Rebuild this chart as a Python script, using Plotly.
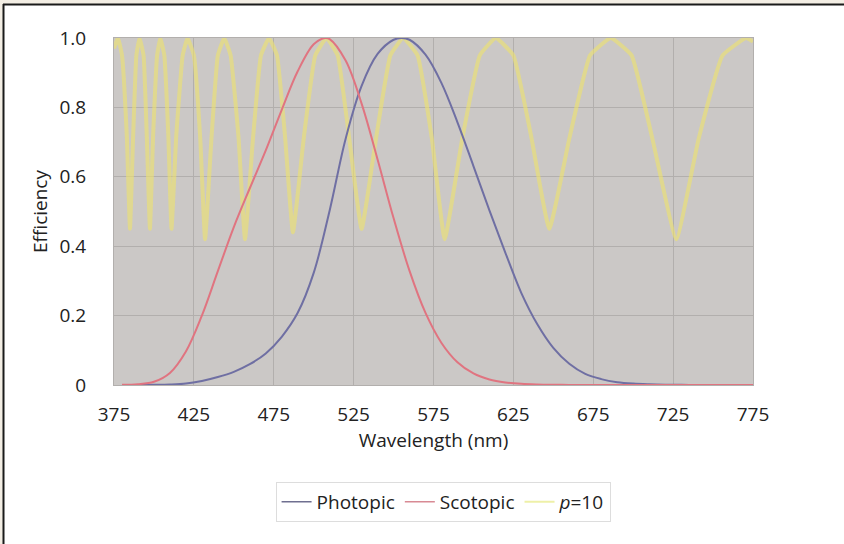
import plotly.graph_objects as go

# Photopic efficiency (CIE V(lambda))
photopic_nm = [380, 390, 400, 410, 420, 430, 440, 450, 460, 470, 480, 490, 500, 510, 520,
               530, 540, 550, 555, 560, 570, 580, 590, 600, 610, 620, 630, 640, 650, 660,
               670, 680, 690, 700, 710, 720, 730, 740, 750, 760, 770, 780]
photopic_val = [0.00004, 0.00012, 0.0004, 0.0012, 0.004, 0.0116, 0.023, 0.038, 0.06, 0.091,
                0.139, 0.208, 0.323, 0.503, 0.71, 0.862, 0.954, 0.995, 1.0, 0.995, 0.952,
                0.87, 0.757, 0.631, 0.503, 0.381, 0.265, 0.175, 0.107, 0.061, 0.032, 0.017,
                0.0082, 0.0041, 0.0021, 0.00105, 0.00052, 0.00025, 0.00012, 0.00006,
                0.00003, 0.000015]

# Scotopic efficiency
scotopic_nm = [380, 390, 400, 410, 420, 430, 440, 450, 460, 470, 480, 490, 500, 507, 510,
               520, 530, 540, 550, 560, 570, 580, 590, 600, 610, 620, 630, 640, 650, 660,
               670, 680, 690, 700, 720, 740, 760, 780]
scotopic_val = [0.0006, 0.0022, 0.0093, 0.0348, 0.0966, 0.1998, 0.3281, 0.455, 0.567, 0.676,
                0.793, 0.904, 0.982, 1.0, 0.997, 0.935, 0.811, 0.65, 0.481, 0.3288, 0.2076,
                0.1212, 0.0655, 0.0332, 0.0159, 0.0074, 0.0033, 0.0015, 0.0007, 0.0003,
                0.00015, 0.00007, 0.00004, 0.00002, 0.0, 0.0, 0.0, 0.0]

# p=10 curve (peaks, shoulders, dips)
p10_nm = [375, 377.5, 380, 383, 385, 387, 389, 391, 393.5, 395.5, 397.5, 399.5, 402, 404,
          406.5, 409, 411, 414, 418, 421, 425, 429, 432, 436, 440, 444, 448, 453, 457,
          462, 467, 472, 477, 482, 487, 494, 501, 508, 515, 522, 530, 539, 548, 556,
          565, 574, 582, 593, 604, 614, 625, 636, 647.5, 660, 673, 686, 699, 712, 727,
          741, 756, 770.6, 775]
p10_val = [0.97, 1.0, 0.95, 0.72, 0.45, 0.72, 0.95, 1.0, 0.95, 0.72, 0.45, 0.72, 0.95, 1.0,
           0.95, 0.72, 0.45, 0.72, 0.95, 1.0, 0.95, 0.71, 0.42, 0.71, 0.95, 1.0, 0.95,
           0.71, 0.42, 0.71, 0.95, 1.0, 0.95, 0.72, 0.44, 0.72, 0.95, 1.0, 0.95, 0.72, 0.45,
           0.71, 0.95, 1.0, 0.95, 0.71, 0.42, 0.71, 0.95, 1.0, 0.95, 0.72, 0.45, 0.71,
           0.95, 1.0, 0.95, 0.71, 0.42, 0.71, 0.95, 1.0, 0.99]

x_ticks = [375, 425, 475, 525, 575, 625, 675, 725, 775]
y_ticks = [0, 0.2, 0.4, 0.6, 0.8, 1.0]
y_tick_text = ["0", "0.2", "0.4", "0.6", "0.8", "1.0"]

FONT = "Open Sans"
FS = 19

fig = go.Figure()
# data lines (legend handled by thin legend-only entries below)
fig.add_trace(go.Scatter(x=p10_nm, y=p10_val, mode="lines", name="<i>p</i>=10",
                         legendgroup="p", showlegend=False,
                         line=dict(color="rgba(238,226,112,0.62)", width=4,
                                   shape="spline", smoothing=0.35)))
fig.add_trace(go.Scatter(x=photopic_nm, y=photopic_val, mode="lines", name="Photopic",
                         legendgroup="ph", showlegend=False,
                         line=dict(color="#6f6fa3", width=2, shape="spline")))
fig.add_trace(go.Scatter(x=scotopic_nm, y=scotopic_val, mode="lines", name="Scotopic",
                         legendgroup="sc", showlegend=False,
                         line=dict(color="#e07480", width=2, shape="spline")))
# legend entries
fig.add_trace(go.Scatter(x=[None], y=[None], mode="lines", name="Photopic", legendgroup="ph",
                         line=dict(color="#6f6f90", width=1.5)))
fig.add_trace(go.Scatter(x=[None], y=[None], mode="lines", name="Scotopic", legendgroup="sc",
                         line=dict(color="#d88a94", width=1.5)))
fig.add_trace(go.Scatter(x=[None], y=[None], mode="lines", name="<i>p</i>=10", legendgroup="p",
                         line=dict(color="#eef0a8", width=2)))

L, R, T, B = 114, 91, 38, 159
W, H = 844, 544
pw, ph = W - L - R, H - T - B

def px(xp):
    return (xp - L) / pw

def py(yp):
    return (H - B - yp) / ph

shapes = [
    dict(type="rect", xref="paper", yref="paper", x0=px(-5), x1=px(W + 5), y0=py(-5), y1=py(4),
         fillcolor="#f3eee4", line=dict(width=0), layer="above"),
    dict(type="rect", xref="paper", yref="paper", x0=px(-5), x1=px(3), y0=py(H + 5), y1=py(4),
         fillcolor="#f3eee4", line=dict(width=0), layer="above"),
    dict(type="line", xref="paper", yref="paper", x0=px(3), x1=px(W + 5), y0=py(4.5), y1=py(4.5),
         line=dict(color="#1a1a1a", width=2), layer="above"),
    dict(type="line", xref="paper", yref="paper", x0=px(3.5), x1=px(3.5), y0=py(4), y1=py(H + 5),
         line=dict(color="#1a1a1a", width=2), layer="above"),
]

fig.update_layout(
    width=W, height=H,
    margin=dict(l=L, r=R, t=T, b=B, autoexpand=False),
    paper_bgcolor="white",
    plot_bgcolor="#cbc8c6",
    font=dict(family=FONT, size=FS, color="#222222"),
    showlegend=True,
    legend=dict(orientation="h", x=0.515, xanchor="center", y=py(482), yanchor="top",
                bordercolor="#dddddd", borderwidth=1, bgcolor="white",
                font=dict(family=FONT, size=FS, color="#222222"),
                traceorder="normal", tracegroupgap=0),
    shapes=shapes,
)

fig.update_xaxes(range=[375, 775], tickvals=x_ticks, ticktext=[str(v) for v in x_ticks],
                 showgrid=True, gridcolor="#b2afad", gridwidth=1,
                 zeroline=False, showline=True, linecolor="#b2afad", mirror=True,
                 ticks="", tickfont=dict(size=FS), ticklabelstandoff=12, automargin=False,
                 title=dict(text="Wavelength (nm)", font=dict(size=FS), standoff=6))
fig.update_yaxes(range=[0, 1.0], tickvals=y_ticks, ticktext=y_tick_text,
                 showgrid=True, gridcolor="#b2afad", gridwidth=1,
                 zeroline=False, showline=True, linecolor="#b2afad", mirror=True,
                 ticks="", tickfont=dict(size=FS), ticklabelstandoff=23, automargin=False,
                 title=dict(text="Efficiency", font=dict(size=FS), standoff=6))

fig.write_html("out.html", config={"displayModeBar": False},
               post_script="document.body.style.margin='0';")
